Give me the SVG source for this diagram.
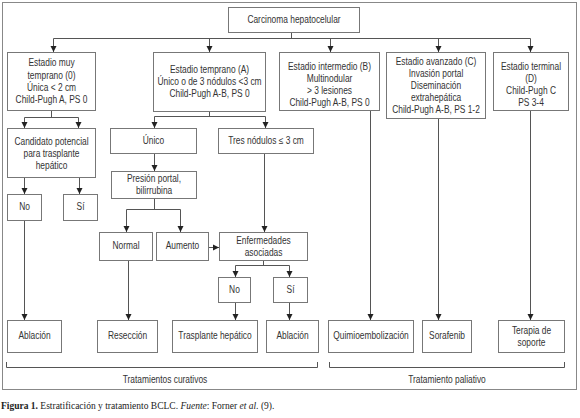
<svg xmlns="http://www.w3.org/2000/svg" width="580" height="418" viewBox="0 0 580 418">
<defs>
<marker id="ah" markerUnits="userSpaceOnUse" markerWidth="7" markerHeight="7" refX="6" refY="3.5" orient="auto">
<path d="M0,0.5 L6,3.5 L0,6.5 Z" fill="#222"/>
</marker>
<style>
.b{fill:#fff;stroke:#777;stroke-width:1}
.t{font-family:"Liberation Sans",Arial,sans-serif;font-size:10px;fill:#333;text-anchor:middle;transform-box:fill-box;transform-origin:center;transform:scaleX(0.84)}
.c{fill:none;stroke:#555;stroke-width:1}
.a{marker-end:url(#ah)}
.cap{font-family:"Liberation Serif","Times New Roman",serif;font-size:9.5px;fill:#222}
</style>
</defs>
<rect x="0" y="0" width="580" height="418" fill="#fff"/>
<rect x="2.5" y="2.5" width="574" height="387" fill="none" stroke="#888" stroke-width="1"/>

<g id="connectors">
<path class="c" d="M291.5,32 V38.5 M53.5,38.5 H530.5"/>
<path class="c a" d="M53.5,38.5 V52"/>
<path class="c a" d="M209.5,38.5 V52"/>
<path class="c a" d="M330.5,38.5 V52"/>
<path class="c a" d="M438.5,38.5 V52"/>
<path class="c a" d="M530.5,38.5 V52"/>
<path class="c" d="M51.5,110 V117.5 M24.5,117.5 H78.5"/>
<path class="c a" d="M24.5,117.5 V128"/>
<path class="c a" d="M78.5,117.5 V128"/>
<path class="c a" d="M24.5,177 V194"/>
<path class="c a" d="M79.5,177 V194"/>
<path class="c a" d="M24.5,220 V320"/>
<path class="c" d="M209.5,112 V116.5 M154.5,116.5 H265.5"/>
<path class="c a" d="M154.5,116.5 V128"/>
<path class="c a" d="M265.5,116.5 V128"/>
<path class="c a" d="M154.5,153 V171"/>
<path class="c" d="M154.5,198 V209.5 M126.5,209.5 H180.5"/>
<path class="c a" d="M126.5,209.5 V232"/>
<path class="c a" d="M180.5,209.5 V232"/>
<path class="c a" d="M208,247.5 H219"/>
<path class="c a" d="M264.5,153 V232"/>
<path class="c" d="M263.5,261 V265.5 M235.5,265.5 H289.5"/>
<path class="c a" d="M235.5,265.5 V277"/>
<path class="c a" d="M289.5,265.5 V277"/>
<path class="c a" d="M235.5,302 V320"/>
<path class="c a" d="M289.5,302 V320"/>
<path class="c a" d="M128.5,260 V320"/>
<path class="c a" d="M370.5,110 V320"/>
<path class="c a" d="M438.5,118 V320"/>
<path class="c a" d="M530.5,110 V320"/>
<path class="c" d="M6.5,362 V367.5 H317.5 V362"/>
<path class="c" d="M329.5,362 V367.5 H564.5 V362"/>
</g>

<g id="n-carcinoma"><rect class="b" x="228.5" y="7.5" width="131" height="25"/><text class="t" x="294" y="23">Carcinoma hepatocelular</text></g>

<g id="n-stage0"><rect class="b" x="7.5" y="52.5" width="88" height="58"/>
<text class="t" x="51.5" y="66.5">Estadio muy</text><text class="t" x="51.5" y="78.7">temprano (0)</text><text class="t" x="51.5" y="90.9">Única &lt; 2 cm</text><text class="t" x="51.5" y="103.1">Child-Pugh A, PS 0</text></g>

<g id="n-stageA"><rect class="b" x="153.5" y="52.5" width="112" height="59"/>
<text class="t" x="209.5" y="73.5">Estadio temprano (A)</text><text class="t" x="209.5" y="85.5">Único o de 3 nódulos &lt;3 cm</text><text class="t" x="209.5" y="97.5">Child-Pugh A-B, PS 0</text></g>

<g id="n-stageB"><rect class="b" x="279.5" y="52.5" width="100" height="58"/>
<text class="t" x="329.5" y="70.5">Estadio intermedio (B)</text><text class="t" x="329.5" y="82.5">Multinodular</text><text class="t" x="329.5" y="94.5">&gt; 3 lesiones</text><text class="t" x="329.5" y="106">Child-Pugh A-B, PS 0</text></g>

<g id="n-stageC"><rect class="b" x="386.5" y="52.5" width="99" height="66"/>
<text class="t" x="436" y="65">Estadio avanzado (C)</text><text class="t" x="436" y="77">Invasión portal</text><text class="t" x="436" y="89">Diseminación</text><text class="t" x="436" y="101">extrahepática</text><text class="t" x="436" y="113">Child-Pugh A-B, PS 1-2</text></g>

<g id="n-stageD"><rect class="b" x="493.5" y="52.5" width="75" height="58"/>
<text class="t" x="531" y="70.5">Estadio terminal</text><text class="t" x="531" y="82.5">(D)</text><text class="t" x="531" y="94.5">Child-Pugh C</text><text class="t" x="531" y="106">PS 3-4</text></g>

<g id="n-candidato"><rect class="b" x="7.5" y="128.5" width="88" height="49"/>
<text class="t" x="51.5" y="145.5">Candidato potencial</text><text class="t" x="51.5" y="157.5">para trasplante</text><text class="t" x="51.5" y="169">hepático</text></g>

<g id="n-no1"><rect class="b" x="7.5" y="194.5" width="34" height="26"/><text class="t" x="24.5" y="210.5">No</text></g>
<g id="n-si1"><rect class="b" x="63.5" y="194.5" width="34" height="26"/><text class="t" x="80.5" y="210.5">Sí</text></g>

<g id="n-unico"><rect class="b" x="110.5" y="128.5" width="86" height="25"/><text class="t" x="153.5" y="144">Único</text></g>
<g id="n-tres"><rect class="b" x="218.5" y="128.5" width="95" height="25"/><text class="t" x="266" y="144">Tres nódulos ≤ 3 cm</text></g>

<g id="n-presion"><rect class="b" x="111.5" y="171.5" width="85" height="27"/>
<text class="t" x="154" y="182.5">Presión portal,</text><text class="t" x="154" y="194.5">bilirrubina</text></g>

<g id="n-normal"><rect class="b" x="99.5" y="232.5" width="53" height="28"/><text class="t" x="126" y="249.5">Normal</text></g>
<g id="n-aumento"><rect class="b" x="156.5" y="232.5" width="52" height="28"/><text class="t" x="182.5" y="249.5">Aumento</text></g>

<g id="n-enfermedades"><rect class="b" x="219.5" y="232.5" width="88" height="28"/>
<text class="t" x="263.5" y="244.5">Enfermedades</text><text class="t" x="263.5" y="256.5">asociadas</text></g>

<g id="n-no2"><rect class="b" x="218.5" y="277.5" width="32" height="25"/><text class="t" x="234.5" y="293">No</text></g>
<g id="n-si2"><rect class="b" x="273.5" y="277.5" width="34" height="25"/><text class="t" x="290.5" y="293">Sí</text></g>

<g id="n-ablacion1"><rect class="b" x="7.5" y="320.5" width="54" height="32"/><text class="t" x="34.5" y="339.5">Ablación</text></g>
<g id="n-reseccion"><rect class="b" x="97.5" y="320.5" width="60" height="32"/><text class="t" x="127.5" y="339.5">Resección</text></g>
<g id="n-trasplante"><rect class="b" x="172.5" y="320.5" width="85" height="32"/><text class="t" x="215" y="339.5">Trasplante hepático</text></g>
<g id="n-ablacion2"><rect class="b" x="266.5" y="320.5" width="52" height="32"/><text class="t" x="292.5" y="339.5">Ablación</text></g>
<g id="n-quimio"><rect class="b" x="328.5" y="320.5" width="85" height="32"/><text class="t" x="371" y="339.5">Quimioembolización</text></g>
<g id="n-sorafenib"><rect class="b" x="422.5" y="320.5" width="49" height="32"/><text class="t" x="447" y="339.5">Sorafenib</text></g>
<g id="n-terapia"><rect class="b" x="498.5" y="320.5" width="66" height="32"/>
<text class="t" x="531.5" y="334.5">Terapia de</text><text class="t" x="531.5" y="346.5">soporte</text></g>

<text class="t" x="165" y="383">Tratamientos curativos</text>
<text class="t" x="447" y="383">Tratamiento paliativo</text>

<text class="cap" x="1" y="409"><tspan font-weight="bold">Figura 1.</tspan> Estratificación y tratamiento BCLC. <tspan font-style="italic">Fuente</tspan>: Forner <tspan font-style="italic">et al.</tspan> (9).</text>
</svg>
